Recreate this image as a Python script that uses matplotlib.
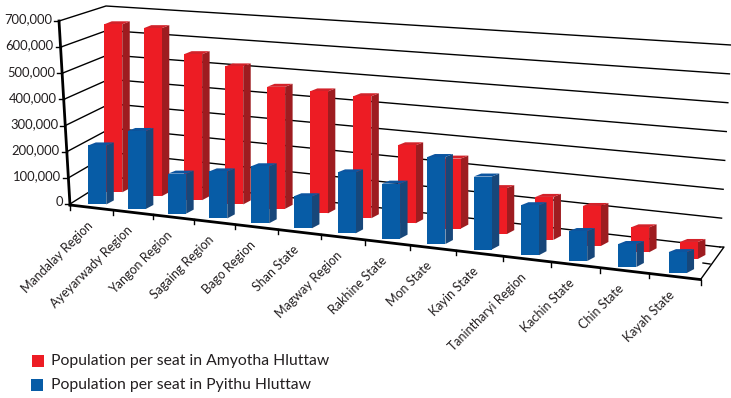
import matplotlib
matplotlib.use("Agg")
import matplotlib.pyplot as plt
from matplotlib.patches import Polygon, Rectangle
import numpy as np

regions = ["Mandalay Region", "Ayeyarwady Region", "Yangon Region", "Sagaing Region",
           "Bago Region", "Shan State", "Magway Region", "Rakhine State", "Mon State",
           "Kayin State", "Tanintharyi Region", "Kachin State", "Chin State", "Kayah State"]
amyotha = [672000, 672000, 584000, 552000, 488000, 488000, 488000,
           312000, 280000, 184000, 172000, 160000, 100000, 68000]
pyithu = [236000, 312000, 160000, 188000, 228000, 128000, 244000,
          220000, 348000, 292000, 200000, 120000, 92000, 84000]
y_ticks = [0, 100000, 200000, 300000, 400000, 500000, 600000, 700000]

plt.rcParams["font.family"] = ["Lato", "DejaVu Sans"]
TEXT = "#231f20"
RED, RED_TOP, RED_SIDE = "#ed1c24", "#d3222a", "#9e1c20"
BLUE, BLUE_TOP, BLUE_SIDE = "#075ca6", "#0c55a0", "#17477a"

fig = plt.figure(figsize=(7.31, 3.98), dpi=100)
ax = fig.add_axes([0, 0, 1, 1])
ax.set_xlim(0, 731)
ax.set_ylim(398, 0)
ax.axis("off")

n = len(regions)
PX_PER_UNIT = 175 / 700000


# floor position of a category (t) at a depth d, 0 = front edge, 1 = back wall
def floor(t, d):
    s = 38.8 * t / (1 - 0.0095 * t)
    frac = s / 626
    dx = 38 - 13 * frac ** 4
    dy = -28 - 5 * frac - 24 * frac * (1 - frac)
    return 74 + s + d * dx, 205 + 0.119 * s + d * dy


def wall_pt(x0, y0, x1, y1, v):
    f = v / 700000
    return x0 + (x1 - x0) * f, y0 + (y1 - y0) * f


# left wall, back wall and their gridlines
for v in y_ticks:
    px, py = wall_pt(70, 204, 59, 21, v)
    bx, by = wall_pt(113, 177, 106, 6, v)
    rx, ry = wall_pt(720, 247, 731, 45, v)
    ax.plot([px, bx, rx], [py, by, ry], color="black", lw=1.0, zorder=1, solid_joinstyle="miter")
    ax.plot([px - 5, px], [py, py], color="black", lw=1.0, zorder=1)
    ax.text(px - 7, py - 1.5, f"{v:,}", ha="right", va="center", fontsize=9.4, color=TEXT)


# one bar: front face with side and top faces
def bar(cx, base, value, front, top, side, z):
    w = 9
    h = value * PX_PER_UNIT
    y = base - h
    ax.add_patch(Polygon([(cx + w, base), (cx + w + 7.5, base - 4), (cx + w + 7.5, y - 3), (cx + w, y)],
                         fc=side, ec="none", zorder=z))
    ax.add_patch(Polygon([(cx - w, y), (cx + w, y), (cx + w + 7.5, y - 3), (cx - w + 7.5, y - 3)],
                         fc=top, ec="none", zorder=z))
    ax.add_patch(Rectangle((cx - w, y), 2 * w, h, fc=front, ec="none", zorder=z))


for i in range(n):
    cx, base = floor(i + 0.5, 0.52)
    bar(cx, base, amyotha[i], RED, RED_TOP, RED_SIDE, 2 + i * 0.01)
for i in range(n):
    cx, base = floor(i + 0.5, 0.1)
    bar(cx, base, pyithu[i], BLUE, BLUE_TOP, BLUE_SIDE, 3 + i * 0.01)

# floor edges, the front axis and its ticks
fx = [floor(t, 0)[0] for t in range(n + 1)]
fy = [floor(t, 0)[1] for t in range(n + 1)]
fx[0] = 70
ax.plot([59, 70], [21, 205], color="black", lw=2.0, zorder=5)
ax.plot([fx[0], fx[-1]], [fy[0], fy[-1]], color="black", lw=2.0, zorder=5)
ax.plot([720, 724, fx[-1]], [247, 247, fy[-1]], color="black", lw=1.0, zorder=1)
ax.plot([703, 710], [263, 264], color="black", lw=1.0, zorder=1)
for i in range(n + 1):
    ax.plot([fx[i], fx[i]], [fy[i], fy[i] + 5], color="black", lw=1.0, zorder=5)

for i, name in enumerate(regions):
    x, y = floor(i + 0.5, 0)
    ax.text(x - 7, y + 12, name, rotation=45, rotation_mode="anchor", ha="right", va="top",
            fontsize=9.0, color=TEXT)

# legend
ax.add_patch(Rectangle((32, 355), 12, 12, fc=RED, ec="none"))
ax.add_patch(Rectangle((31, 379), 12, 12, fc=BLUE, ec="none"))
ax.text(51, 360.5, "Population per seat in Amyotha Hluttaw", va="center", fontsize=11.3, color=TEXT)
ax.text(51, 385, "Population per seat in Pyithu Hluttaw", va="center", fontsize=11.3, color=TEXT)

fig.savefig("out.png", dpi=100)
